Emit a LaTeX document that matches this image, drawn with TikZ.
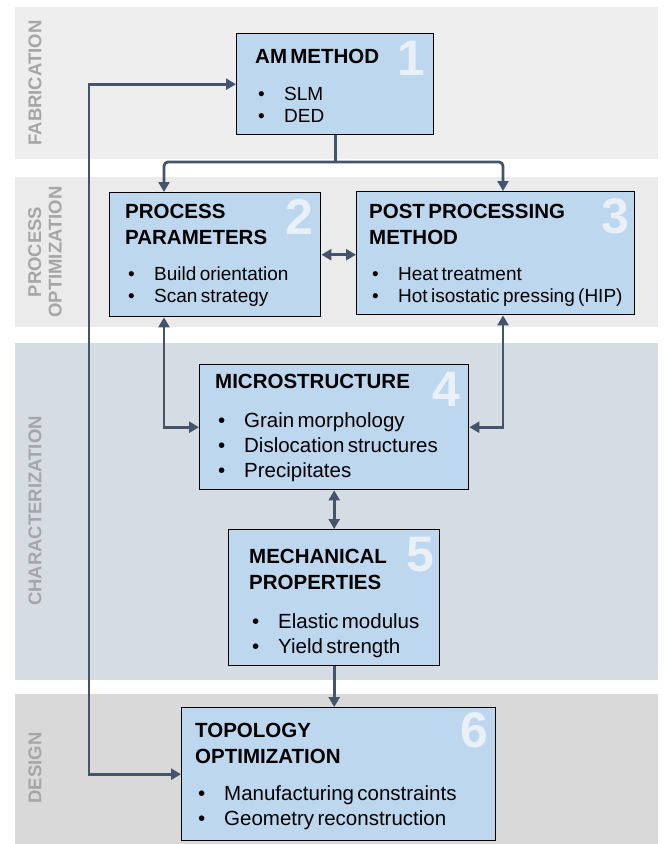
\documentclass[tikz,border=0pt]{standalone}
\usepackage{fontspec}
\setmainfont{Liberation Sans}
\usetikzlibrary{arrows.meta,positioning}
\definecolor{bandfab}{HTML}{EEEEEE}
\definecolor{bandproc}{HTML}{EBEBEB}
\definecolor{bandchar}{HTML}{D6DCE4}
\definecolor{banddes}{HTML}{D9D9D9}
\definecolor{boxblue}{HTML}{BDD7EE}
\definecolor{linkslate}{HTML}{44546A}
\definecolor{numwhite}{HTML}{E9F0F8}
\definecolor{bandtext}{HTML}{A6A6A6}
\newcommand{\bul}[1]{\makebox[29pt][l]{\hspace{3pt}\textbullet}#1}
\newcommand{\ttl}[1]{{\fontsize{20.5}{26}\selectfont\bfseries #1\par}}
\newcommand{\lstsmall}[1]{{\fontsize{19}{22}\selectfont #1\par}}
\newcommand{\lstlarge}[1]{{\fontsize{20.5}{25}\selectfont #1\par}}

\begin{document}
\begin{tikzpicture}[x=1pt,y=-1pt,>={Triangle[length=10pt,width=11pt]},
  box/.style={draw=black,line width=1.4pt,fill=boxblue,anchor=north west,inner sep=0pt},
  boxtext/.style={anchor=base west,inner sep=0pt,text width=300pt,align=left},
  num/.style={anchor=north east,inner sep=0pt,text=numwhite,font=\fontsize{50}{50}\selectfont\bfseries},
  bandlabel/.style={rotate=90,inner sep=0pt,text=bandtext,align=center,font=\fontsize{18.5}{20.5}\selectfont\bfseries},
  link/.style={draw=linkslate,line width=2.8pt}]
  \useasboundingbox (0,0) rectangle (664,844);
  % bands
  \fill[bandfab] (15,7) rectangle (658,159);
  \fill[bandproc] (15,177) rectangle (658,327);
  \fill[bandchar] (15,343) rectangle (658,680);
  \fill[banddes] (15,694) rectangle (658,844);
  \node[bandlabel] (lfab) at (35,83) {FABRICATION};
  \node[bandlabel] (lproc) at (45,252) {PROCESS\\OPTIMIZATION};
  \node[bandlabel] (lchar) at (35,511) {CHARACTERIZATION};
  \node[bandlabel] (ldes) at (35,768) {DESIGN};

  % boxes
  \node[box,minimum width=197pt,minimum height=101pt] (b1) at (236,33) {};
  \node[box,minimum width=211pt,minimum height=124pt] (b2) at (109,192) {};
  \node[box,minimum width=278pt,minimum height=123pt] (b3) at (356,191) {};
  \node[box,minimum width=269pt,minimum height=125pt] (b4) at (199,364) {};
  \node[box,minimum width=211pt,minimum height=136pt] (b5) at (228,529) {};
  \node[box,minimum width=314pt,minimum height=133pt] (b6) at (181,707) {};

  \node[num] (n1) at ([shift={(-9pt,-8pt)}]b1.north east) {1};
  \node[num] (n2) at ([shift={(-8pt,-7pt)}]b2.north east) {2};
  \node[num] (n3) at ([shift={(-6pt,-7pt)}]b3.north east) {3};
  \node[num] (n4) at ([shift={(-9pt,-8pt)}]b4.north east) {4};
  \node[num] (n5) at ([shift={(-6pt,-8pt)}]b5.north east) {5};
  \node[num] (n6) at ([shift={(-8pt,-5pt)}]b6.north east) {6};

  \node[boxtext] (t1) at ([shift={(19pt,-30pt)}]b1.north west)
    {\ttl{AM METHOD}\vspace{15pt}\lstsmall{\bul{SLM}\\\bul{DED}}};
  \node[boxtext] (t2) at ([shift={(16pt,-26pt)}]b2.north west)
    {\ttl{PROCESS\\PARAMETERS}\vspace{14pt}\lstsmall{\bul{Build orientation}\\\bul{Scan strategy}}};
  \node[boxtext] (t3) at ([shift={(13pt,-27pt)}]b3.north west)
    {\ttl{POST PROCESSING\\METHOD}\vspace{14pt}\lstsmall{\bul{Heat treatment}\\\bul{Hot isostatic pressing (HIP)}}};
  \node[boxtext] (t4) at ([shift={(16pt,-24pt)}]b4.north west)
    {\ttl{MICROSTRUCTURE}\vspace{14pt}\lstlarge{\bul{Grain morphology}\\\bul{Dislocation structures}\\\bul{Precipitates}}};
  \node[boxtext] (t5) at ([shift={(21pt,-34pt)}]b5.north west)
    {\ttl{MECHANICAL\\PROPERTIES}\vspace{14pt}\lstlarge{\bul{Elastic modulus}\\\bul{Yield strength}}};
  \node[boxtext] (t6) at ([shift={(14pt,-30pt)}]b6.north west)
    {\ttl{TOPOLOGY\\OPTIMIZATION}\vspace{12pt}\lstlarge{\bul{Manufacturing constraints}\\\bul{Geometry reconstruction}}};

  % connectors
  \coordinate (colL) at (164,0);
  \coordinate (colR) at (503,0);
  \coordinate (split) at (0,162);
  \coordinate (back) at (89,0);
  \draw[link] (b1.south) -- (b1.south |- split) coordinate (fork);
  \draw[link,->,rounded corners=4pt] (fork) -| (b2.north -| colL);
  \draw[link,->,rounded corners=4pt] (fork) -| (b3.north -| colR);
  \draw[link,<->] (b2.east) -- (b3.west |- b2.east);
  \draw[link,<->] (b2.south -| colL) |- (b4.west);
  \draw[link,<->] (b3.south -| colR) |- (b4.east);
  \draw[link,<->] (b4.south) -- (b5.north);
  \draw[link,->] (b5.south) -- (b6.north -| b5.south);
  \draw[link,<->] (b1.west) -| (back |- b6.west) -- (b6.west);
\end{tikzpicture}
\end{document}
